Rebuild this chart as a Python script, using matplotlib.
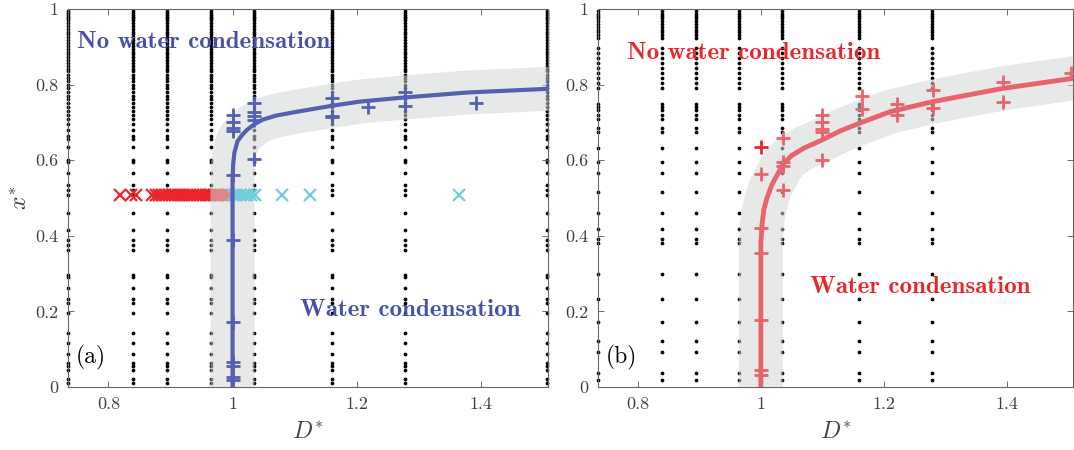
import matplotlib
matplotlib.use("Agg")
import matplotlib.pyplot as plt
from matplotlib.ticker import FormatStrFormatter
import numpy as np

plt.rcParams['mathtext.fontset'] = 'cm'
plt.rcParams['font.family'] = ['cmr10', 'DejaVu Serif']
plt.rcParams['axes.formatter.use_mathtext'] = True

# --- data ---
# sampled columns of D* (black dots)
cols_a = [0.735, 0.839, 0.895, 0.965, 1.035, 1.16, 1.278, 1.506]
cols_b = [0.735, 0.839, 0.895, 0.965, 1.035, 1.16, 1.278]

ydots_a = [0.995, 0.99, 0.985, 0.98, 0.975, 0.97, 0.962, 0.955, 0.948, 0.94,
           0.933, 0.925, 0.918, 0.91, 0.902, 0.895, 0.887, 0.88, 0.872, 0.865,
           0.857, 0.85, 0.842, 0.835, 0.826, 0.818, 0.81, 0.80, 0.79, 0.78,
           0.77, 0.762, 0.752, 0.742, 0.73, 0.72, 0.708, 0.695, 0.68, 0.665,
           0.655, 0.635, 0.60, 0.595, 0.565, 0.535, 0.52, 0.507,
           0.461, 0.416, 0.389, 0.376, 0.363, 0.296, 0.291, 0.261, 0.232,
           0.221, 0.197, 0.144, 0.117, 0.088, 0.064, 0.056, 0.045, 0.02, 0.01]
ydots_b = [0.995, 0.988, 0.982, 0.975, 0.968, 0.96, 0.953, 0.945, 0.938, 0.93,
           0.922, 0.897, 0.884, 0.87, 0.857, 0.844, 0.831, 0.817, 0.804, 0.791,
           0.75, 0.742, 0.733, 0.72, 0.71, 0.685, 0.675, 0.632, 0.595, 0.566,
           0.516, 0.46, 0.418, 0.391, 0.38, 0.30, 0.234, 0.173, 0.122, 0.093,
           0.037, 0.019]

# threshold curves
curve_a_D = [1.0, 1.0, 1.0, 1.001, 1.003, 1.008, 1.015, 1.023, 1.035, 1.048,
             1.07, 1.103, 1.16, 1.205, 1.27, 1.377, 1.51, 1.56]
curve_a_x = [-0.1, 0.0, 0.55, 0.59, 0.62, 0.65, 0.666, 0.68, 0.695, 0.707,
             0.718, 0.728, 0.744, 0.755, 0.765, 0.779, 0.789, 0.792]
curve_b_D = [1.0, 1.0, 1.0, 1.002, 1.005, 1.01, 1.018, 1.027, 1.036, 1.05,
             1.07, 1.099, 1.13, 1.164, 1.21, 1.28, 1.394, 1.51, 1.56]
curve_b_x = [-0.1, 0.0, 0.38, 0.43, 0.47, 0.50, 0.535, 0.562, 0.59, 0.612,
             0.632, 0.653, 0.678, 0.70, 0.728, 0.755, 0.79, 0.817, 0.827]

# (a) + markers
plus_a_D = [1.0, 1.0, 1.0, 1.0, 1.0, 1.0, 1.0, 1.0, 1.0, 1.0, 1.0,
            1.035, 1.035, 1.035, 1.035, 1.035,
            1.16, 1.16, 1.16, 1.218, 1.277, 1.277, 1.392, 1.508]
plus_a_x = [0.72, 0.70, 0.685, 0.677, 0.56, 0.389, 0.173, 0.067, 0.056, 0.027, 0.019,
            0.752, 0.728, 0.717, 0.707, 0.603,
            0.765, 0.718, 0.714, 0.741, 0.781, 0.744, 0.752, 0.79]
# (a) x markers at x* = 0.507
cross_red_D = [0.818, 0.837, 0.845, 0.871, 0.876, 0.882, 0.887, 0.892, 0.897,
               0.902, 0.907, 0.912, 0.917, 0.922, 0.927, 0.932, 0.937, 0.942,
               0.947, 0.952, 0.957, 0.962, 0.966, 0.971, 0.976, 0.981, 0.986,
               0.991, 0.995]
cross_cyan_D = [1.0, 1.006, 1.012, 1.018, 1.024, 1.03, 1.036, 1.08, 1.124, 1.365]
cross_x = 0.507

# (b) + markers
plus_b_D = [1.0, 1.0, 1.0, 1.0, 1.0, 1.0,
            1.036, 1.036, 1.036, 1.036,
            1.099, 1.099, 1.099, 1.099, 1.099,
            1.164, 1.164, 1.221, 1.221, 1.28, 1.28, 1.394, 1.394, 1.504]
plus_b_x = [0.563, 0.42, 0.355, 0.177, 0.045, 0.032,
            0.659, 0.595, 0.585, 0.521,
            0.72, 0.70, 0.683, 0.675, 0.60,
            0.77, 0.735, 0.749, 0.72, 0.786, 0.738, 0.807, 0.754, 0.83]
plus_b_dark = (1.0, 0.635)

blue = '#5560b0'
blue_txt = '#4652a8'
red = '#e8262c'
red_line = '#e8646c'
cyan = '#6fcfd8'
band_col = '#d4d8d8'
band_lw = 44 * 72 / 100.0

fig = plt.figure(figsize=(10.74, 4.5), dpi=100)
ax1 = fig.add_axes([68 / 1074, 63 / 450, 480 / 1074, 378 / 450])
ax2 = fig.add_axes([598 / 1074, 63 / 450, 475 / 1074, 378 / 450])


def base(ax, cols, ydots):
    for c in cols:
        ax.plot([c] * len(ydots), ydots, 'o', color='black', ms=2.7, mew=0,
                zorder=1, clip_on=False)
    ax.set_xlim(0.735, 1.508)
    ax.set_ylim(0, 1)
    ax.set_xticks([0.8, 1.0, 1.2, 1.4])
    ax.set_yticks([0, 0.2, 0.4, 0.6, 0.8, 1.0])
    ax.xaxis.set_major_formatter(FormatStrFormatter('%g'))
    ax.yaxis.set_major_formatter(FormatStrFormatter('%g'))
    ax.tick_params(direction='in', top=True, right=True, length=4, width=0.6,
                   colors='#555555', labelcolor='#404040', labelsize=13, pad=7)
    for s in ax.spines.values():
        s.set_color('#666666')
        s.set_linewidth(0.8)
    ax.set_xlabel(r'$D^{*}$', fontsize=17, color='#404040', labelpad=6)


base(ax1, cols_a, ydots_a)
base(ax2, cols_b, ydots_b)
ax1.set_ylabel(r'$x^{*}$', fontsize=17, color='#404040', labelpad=2)

# panel (a)
ax1.plot(cross_red_D, [cross_x] * len(cross_red_D), 'x', color=red, ms=8,
         mew=1.6, zorder=2)
ax1.plot(curve_a_D, curve_a_x, '-', color=band_col, lw=band_lw, alpha=0.55,
         solid_capstyle='butt', solid_joinstyle='round', zorder=3)
ax1.plot(cross_cyan_D, [cross_x] * len(cross_cyan_D), 'x', color=cyan, ms=8,
         mew=1.6, zorder=3.5)
ax1.plot(curve_a_D, curve_a_x, '-', color=blue, lw=3, zorder=4,
         solid_joinstyle='round')
ax1.plot(plus_a_D, plus_a_x, '+', color=blue, ms=10, mew=2, zorder=5)
ax1.text(0.75, 0.913, 'No water condensation', family='cmb10', fontsize=18,
         color=blue_txt, va='center', zorder=6)
ax1.text(1.108, 0.204, 'Water condensation', family='cmb10', fontsize=18,
         color=blue_txt, va='center', zorder=6)
ax1.text(0.748, 0.078, '(a)', fontsize=17, color='black', va='center')

# panel (b)
ax2.plot(curve_b_D, curve_b_x, '-', color=band_col, lw=band_lw, alpha=0.55,
         solid_capstyle='butt', solid_joinstyle='round', zorder=3)
ax2.plot(curve_b_D, curve_b_x, '-', color=red_line, lw=3.5, zorder=4,
         solid_joinstyle='round')
ax2.plot(plus_b_D, plus_b_x, '+', color=red_line, ms=10, mew=2, zorder=5)
ax2.plot([plus_b_dark[0]], [plus_b_dark[1]], '+', color=red, ms=10, mew=2,
         zorder=5)
ax2.text(0.782, 0.884, 'No water condensation', family='cmb10', fontsize=18,
         color=red, va='center', zorder=6)
ax2.text(1.08, 0.265, 'Water condensation', family='cmb10', fontsize=18,
         color=red, va='center', zorder=6)
ax2.text(0.748, 0.078, '(b)', fontsize=17, color='black', va='center')

fig.savefig('out.png', dpi=100)
